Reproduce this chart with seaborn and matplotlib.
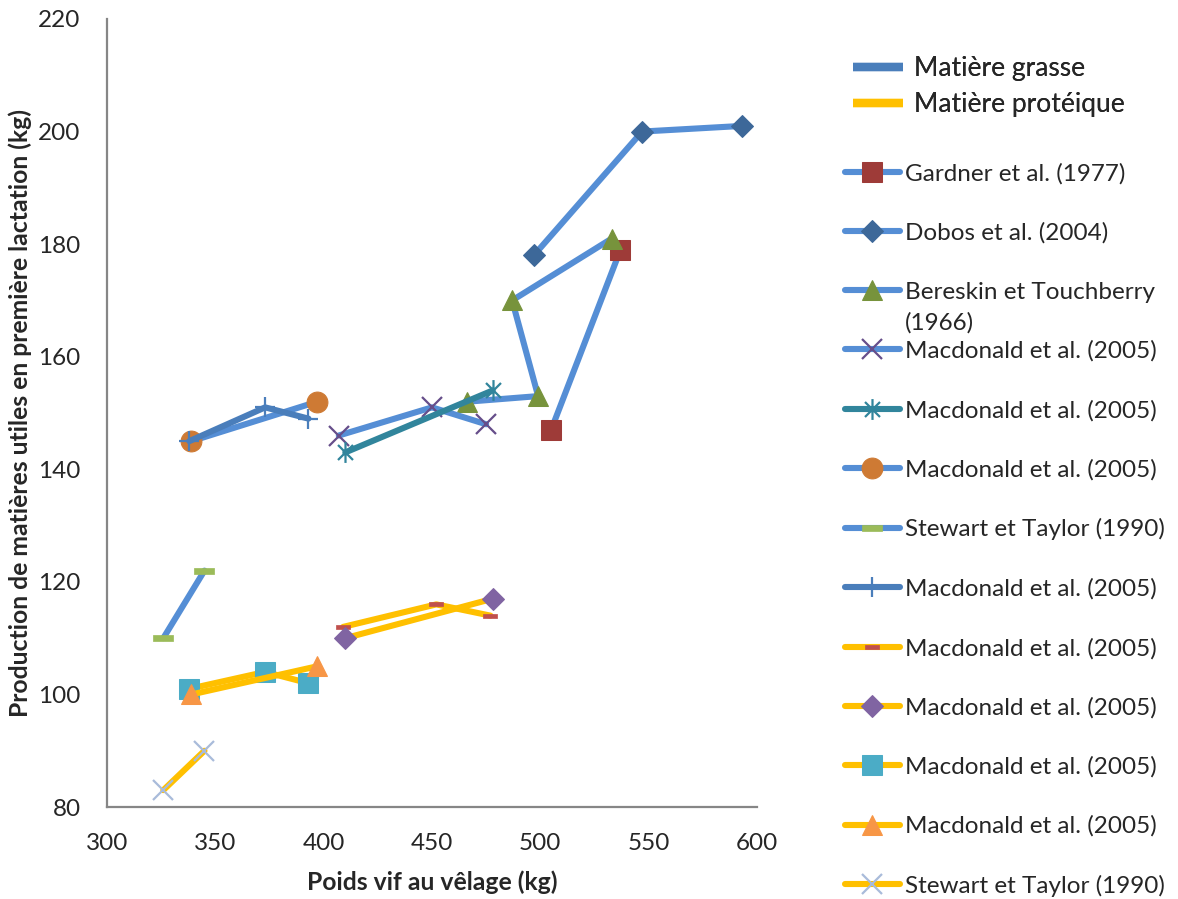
import matplotlib
matplotlib.use("Agg")
import matplotlib.pyplot as plt
from matplotlib.lines import Line2D
from matplotlib.path import Path
import seaborn as sns

# fat series (matiere grasse)
gardner_x = [505, 537]
gardner_y = [147, 179]
dobos_x = [497, 547, 593]
dobos_y = [178, 200, 201]
bereskin_x = [466, 499, 487, 533]
bereskin_y = [152, 153, 170, 181]
macd_cross_x = [407, 450, 475]
macd_cross_y = [146, 151, 148]
macd_star_x = [410, 478]
macd_star_y = [143, 154]
macd_circle_x = [339, 397]
macd_circle_y = [145, 152]
stewart_fat_x = [326, 345]
stewart_fat_y = [110, 122]
macd_plus_x = [338, 373, 393]
macd_plus_y = [145, 151, 149]

# protein series (matiere proteique)
macd_dash_x = [409, 452, 477]
macd_dash_y = [112, 116, 114]
macd_diamond_x = [410, 478]
macd_diamond_y = [110, 117]
macd_square_x = [338, 373, 393]
macd_square_y = [101, 104, 102]
macd_tri_x = [339, 397]
macd_tri_y = [100, 105]
stewart_prot_x = [326, 345]
stewart_prot_y = [83, 90]

labels = ["Gardner et al. (1977)", "Dobos et al. (2004)", "Bereskin et Touchberry",
          "Macdonald et al. (2005)", "Macdonald et al. (2005)", "Macdonald et al. (2005)",
          "Stewart et Taylor (1990)", "Macdonald et al. (2005)", "Macdonald et al. (2005)",
          "Macdonald et al. (2005)", "Macdonald et al. (2005)", "Macdonald et al. (2005)",
          "Stewart et Taylor (1990)"]

sns.set_style("white")
plt.rcParams["font.family"] = ["Lato", "DejaVu Sans"]

FAT = "#558ED5"
PROT = "#FFC000"

star = Path([(0, -1), (0, 1), (-0.72, -0.72), (0.72, 0.72), (-0.72, 0.72), (0.72, -0.72)],
            [Path.MOVETO, Path.LINETO, Path.MOVETO, Path.LINETO, Path.MOVETO, Path.LINETO])
bar = Path([(-1, -0.28), (1, -0.28), (1, 0.28), (-1, 0.28), (-1, -0.28)],
           [Path.MOVETO, Path.LINETO, Path.LINETO, Path.LINETO, Path.CLOSEPOLY])

series = [
    (gardner_x, gardner_y, FAT, dict(marker="s", ms=14, mfc="#9E3B38", mec="#9E3B38")),
    (dobos_x, dobos_y, FAT, dict(marker="D", ms=11, mfc="#3D6899", mec="#3D6899")),
    (bereskin_x, bereskin_y, FAT, dict(marker="^", ms=15, mfc="#77933C", mec="#77933C")),
    (macd_cross_x, macd_cross_y, FAT, dict(marker="x", ms=14, mew=1.6, mec="#664E8A")),
    (macd_star_x, macd_star_y, "#31859C", dict(marker=star, ms=15, mew=1.6, mfc="none", mec="#31859C")),
    (macd_circle_x, macd_circle_y, FAT, dict(marker="o", ms=15, mfc="#CE7A34", mec="#CE7A34")),
    (stewart_fat_x, stewart_fat_y, FAT, dict(marker=bar, ms=15, mfc="#9BBB59", mec="#9BBB59", mew=0.5)),
    (macd_plus_x, macd_plus_y, "#4A7EBB", dict(marker="+", ms=15, mew=1.6, mec="#4A7EBB")),
    (macd_dash_x, macd_dash_y, PROT, dict(marker=bar, ms=10, mfc="#C0504D", mec="#C0504D", mew=0.5)),
    (macd_diamond_x, macd_diamond_y, PROT, dict(marker="D", ms=11, mfc="#8064A2", mec="#8064A2")),
    (macd_square_x, macd_square_y, PROT, dict(marker="s", ms=14, mfc="#4BACC6", mec="#4BACC6")),
    (macd_tri_x, macd_tri_y, PROT, dict(marker="^", ms=15, mfc="#F79646", mec="#F79646")),
    (stewart_prot_x, stewart_prot_y, PROT, dict(marker="x", ms=14, mew=1.6, mec="#A9BBDA")),
]

fig, ax = plt.subplots(figsize=(11.78, 8.99), dpi=100)
fig.subplots_adjust(left=0.0908, right=0.6426, top=0.9789, bottom=0.1023)

for (xs, ys, col, mk), lab in zip(series, labels):
    sns.lineplot(x=xs, y=ys, sort=False, estimator=None, color=col, linewidth=4.4,
                 solid_capstyle="round", solid_joinstyle="round", label=lab, ax=ax, **mk)

ax.set_xlim(300, 600)
ax.set_ylim(80, 220)
ax.set_xticks(range(300, 601, 50))
ax.set_yticks(range(80, 221, 20))
ax.tick_params(axis="both", length=0, labelsize=17.5)
ax.tick_params(axis="y", pad=19)
ax.tick_params(axis="x", pad=19)
for s in ["top", "right"]:
    ax.spines[s].set_visible(False)
for s in ["left", "bottom"]:
    ax.spines[s].set_color("#868686")
    ax.spines[s].set_linewidth(1.6)

ax.set_xlabel("Poids vif au vêlage (kg)", fontsize=17.8, fontweight="bold")
ax.set_ylabel("Production de matières utiles en première lactation (kg)", fontsize=17.8, fontweight="bold")
ax.xaxis.set_label_coords(0.5, -0.08)
ax.yaxis.set_label_coords(-0.115, 0.5)

handles, labs = ax.get_legend_handles_labels()
ax.get_legend().remove()

top = [Line2D([], [], color="#4A7EBB", linewidth=6, solid_capstyle="butt"),
       Line2D([], [], color=PROT, linewidth=6, solid_capstyle="butt")]
leg1 = fig.legend(top, ["Matière grasse", "Matière protéique"], loc="upper left",
                  bbox_to_anchor=(853 / 1178, 1 - 56 / 899), frameon=False, fontsize=19,
                  handlelength=1.9, handletextpad=0.42, labelspacing=0.42,
                  borderpad=0, borderaxespad=0)
leg2 = fig.legend(handles, labs, loc="upper left",
                  bbox_to_anchor=(845 / 1178, 1 - 163 / 899), frameon=False, fontsize=17.5,
                  handlelength=2.26, handletextpad=0.2, labelspacing=1.555,
                  borderpad=0, borderaxespad=0)
fig.add_artist(leg1)
fig.text(905 / 1178, 1 - 323 / 899, "(1966)", fontsize=17.5, va="center", ha="left")

fig.savefig("out.png", dpi=100)
